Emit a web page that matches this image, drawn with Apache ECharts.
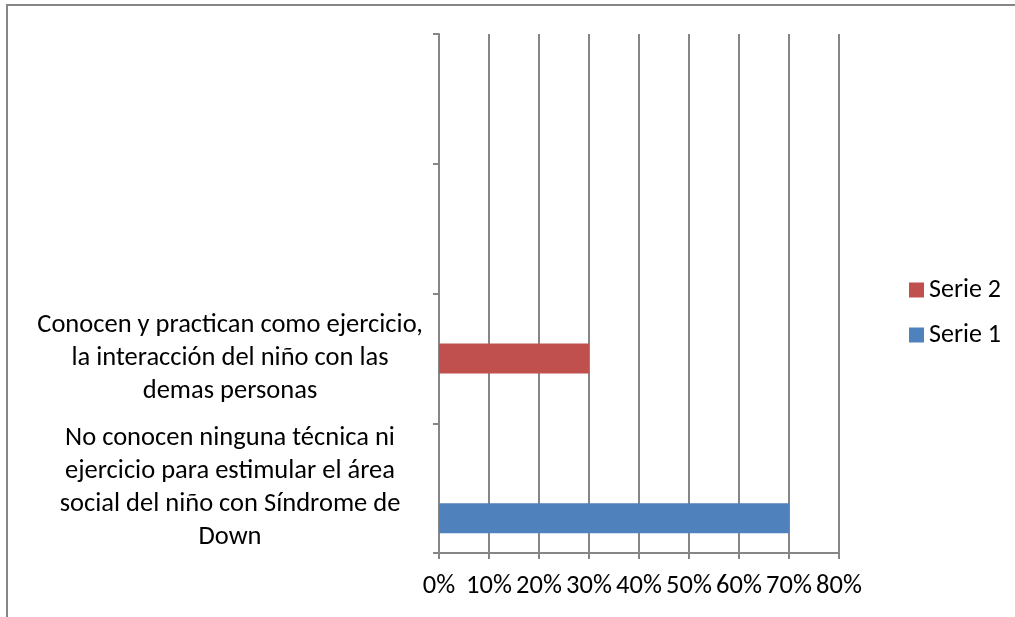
<!DOCTYPE html>
<html>
<head>
<meta charset="utf-8">
<script src="https://cdn.jsdelivr.net/npm/echarts@6/dist/echarts.min.js"></script>
<style>
  html, body { margin: 0; padding: 0; background: #fff; }
  #main { width: 1015px; height: 617px; }
</style>
</head>
<body>
<div id="main"></div>
<script>
// categories bottom -> top (last two are empty bands)
const categories = [
  'No conocen ninguna técnica ni\nejercicio para estimular el área\nsocial del niño con Síndrome de\nDown',
  'Conocen y practican como ejercicio,\nla interacción del niño con las\ndemas personas',
  '',
  ''
];
const serie1 = [70, null, null, null];
const serie2 = [null, 30, null, null];
const serie3 = [null, null, null, null]; // empty third series, not in legend
const xTicks = [0, 80, 10]; // min, max, interval

const font = 'Carlito, Calibri, Lato, sans-serif';
const gray = '#868686';

const chart = echarts.init(document.getElementById('main'));
chart.setOption({
  animation: false,
  textStyle: { fontFamily: font },
  graphic: [{
    type: 'rect',
    shape: { x: 7, y: 5, width: 1030, height: 640 },
    style: { fill: 'none', stroke: gray, lineWidth: 2 },
    silent: true
  }],
  legend: {
    orient: 'vertical',
    left: 904,
    top: 272,
    data: ['Serie 2', 'Serie 1'],
    itemWidth: 15,
    itemHeight: 15,
    itemGap: 19,
    icon: 'rect',
    textStyle: { fontFamily: font, fontSize: 26, color: '#000' },
    itemStyle: { borderWidth: 0 }
  },
  grid: { left: 439, right: 176, top: 34, bottom: 64, containLabel: false, outerBoundsMode: 'none' },
  xAxis: {
    type: 'value',
    min: xTicks[0],
    max: xTicks[1],
    interval: xTicks[2],
    axisLine: { show: true, lineStyle: { color: gray, width: 2 } },
    axisTick: { show: true, length: 6, lineStyle: { color: gray, width: 2 } },
    splitLine: { show: true, lineStyle: { color: gray, width: 2 } },
    axisLabel: {
      formatter: '{value}%',
      color: '#000',
      fontFamily: font,
      fontSize: 26.5,
      margin: 20
    }
  },
  yAxis: {
    type: 'category',
    data: categories,
    axisLine: { show: true, lineStyle: { color: gray, width: 2 } },
    axisTick: { show: true, length: 6, lineStyle: { color: gray, width: 2 } },
    splitLine: { show: false },
    axisLabel: {
      color: '#000',
      fontFamily: font,
      fontSize: 26.5,
      lineHeight: 33,
      align: 'center',
      margin: 209,
      interval: 0
    }
  },
  // ECharts stacks horizontal clusters top-down, so the empty series goes first
  series: [
    { name: 'Serie 3', type: 'bar', data: serie3, barWidth: 30, barGap: '0%', itemStyle: { color: '#9BBB59' } },
    { name: 'Serie 2', type: 'bar', data: serie2, barWidth: 30, barGap: '0%', itemStyle: { color: '#C0504D' } },
    { name: 'Serie 1', type: 'bar', data: serie1, barWidth: 30, barGap: '0%', itemStyle: { color: '#4F81BD' } }
  ]
});
</script>
</body>
</html>
